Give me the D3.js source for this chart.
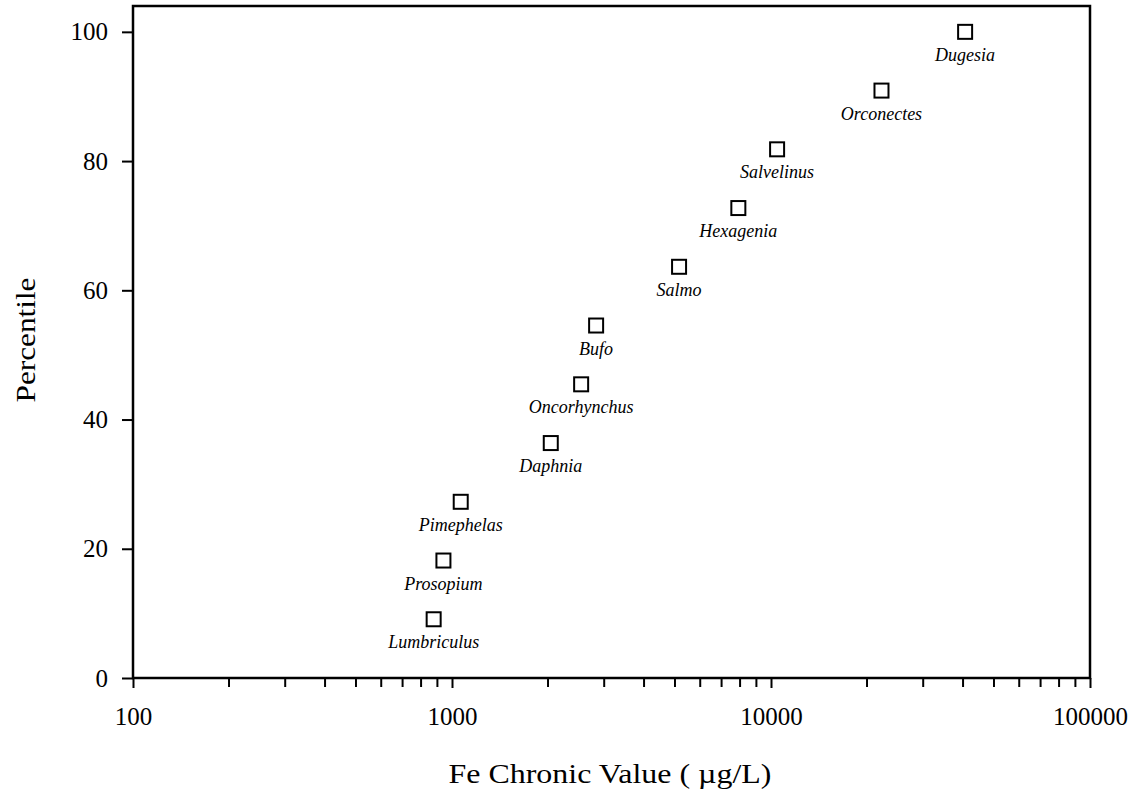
<!DOCTYPE html>
<html>
<head>
<meta charset="utf-8">
<script src="https://cdn.jsdelivr.net/npm/d3@7"></script>
<style>
  body { margin: 0; background: #fff; }
  svg { display: block; }
</style>
</head>
<body>
<div class="chart"></div>
<script>
// species, chronic values (ug/L) and percentile ranks
const species = ["Lumbriculus", "Prosopium", "Pimephelas", "Daphnia", "Oncorhynchus", "Bufo",
                 "Salmo", "Hexagenia", "Salvelinus", "Orconectes", "Dugesia"];
const chronic = [876, 940, 1065, 2040, 2540, 2830, 5150, 7900, 10450, 22200, 40600];
const percentile = [9.09, 18.18, 27.27, 36.36, 45.45, 54.55, 63.64, 72.73, 81.82, 90.91, 100];

const xTicks = [100, 1000, 10000, 100000];
const yTicks = [0, 20, 40, 60, 80, 100];

const W = 1133, H = 796;
const margin = {top: 6, right: 43, bottom: 118, left: 133};

const svg = d3.select('.chart')
    .append('svg')
    .attr('width', W)
    .attr('height', H);

const xScale = d3.scaleLog()
    .domain([100, 100000])
    .range([margin.left, W - margin.right]);

const yScale = d3.scaleLinear()
    .domain([0, 104])
    .range([H - margin.bottom, margin.top]);

const serif = "'Liberation Serif', 'Times New Roman', serif";

// minor ticks between the decades
const minor = [];
[100, 1000, 10000].forEach(d => { for (let k = 2; k <= 9; k++) minor.push(d * k); });

svg.append('g')
    .attr('transform', `translate(0,${H - margin.bottom})`)
    .selectAll('line')
    .data(minor)
    .join('line')
    .attr('x1', d => xScale(d)).attr('x2', d => xScale(d))
    .attr('y1', 0).attr('y2', 9)
    .attr('stroke', '#000')
    .attr('stroke-width', 2);

// x axis
svg.append('g')
    .attr('transform', `translate(0,${H - margin.bottom})`)
    .call(d3.axisBottom(xScale).tickValues(xTicks).tickFormat(d3.format('d')).tickSize(10).tickPadding(19))
    .call(g => g.select('.domain').remove())
    .call(g => g.selectAll('.tick line').attr('stroke-width', 2))
    .call(g => g.selectAll('.tick text')
        .attr('font-family', serif)
        .attr('font-size', 25)
        .attr('fill', '#000'));

// y axis
svg.append('g')
    .attr('transform', `translate(${margin.left},0)`)
    .call(d3.axisLeft(yScale).tickValues(yTicks).tickSize(11).tickPadding(14))
    .call(g => g.select('.domain').remove())
    .call(g => g.selectAll('.tick line').attr('stroke-width', 2))
    .call(g => g.selectAll('.tick text')
        .attr('font-family', serif)
        .attr('font-size', 25)
        .attr('fill', '#000'));

// frame
svg.append('rect')
    .attr('x', margin.left)
    .attr('y', margin.top)
    .attr('width', W - margin.right - margin.left)
    .attr('height', H - margin.bottom - margin.top)
    .attr('fill', 'none')
    .attr('stroke', '#000')
    .attr('stroke-width', 2.5);

// axis titles
svg.append('text')
    .attr('x', 610)
    .attr('y', 783)
    .attr('text-anchor', 'middle')
    .attr('font-family', serif)
    .attr('font-size', 28)
    .attr('textLength', 323)
    .attr('lengthAdjust', 'spacingAndGlyphs')
    .text('Fe Chronic Value ( \u00b5g/L)');

svg.append('text')
    .attr('transform', `translate(35,340) rotate(-90)`)
    .attr('text-anchor', 'middle')
    .attr('font-family', serif)
    .attr('font-size', 28)
    .attr('textLength', 125)
    .attr('lengthAdjust', 'spacingAndGlyphs')
    .text('Percentile');

// points
const data = species.map((s, i) => ({name: s, x: chronic[i], y: percentile[i]}));

svg.append('g')
    .selectAll('rect')
    .data(data)
    .join('rect')
    .attr('x', d => xScale(d.x) - 7)
    .attr('y', d => yScale(d.y) - 7)
    .attr('width', 14)
    .attr('height', 14)
    .attr('fill', 'white')
    .attr('stroke', '#000')
    .attr('stroke-width', 2);

svg.append('g')
    .attr('font-family', serif)
    .attr('font-style', 'italic')
    .attr('font-size', 18)
    .selectAll('text')
    .data(data)
    .join('text')
    .attr('x', d => xScale(d.x))
    .attr('y', d => yScale(d.y) + 29)
    .attr('text-anchor', 'middle')
    .text(d => d.name);
</script>
</body>
</html>
